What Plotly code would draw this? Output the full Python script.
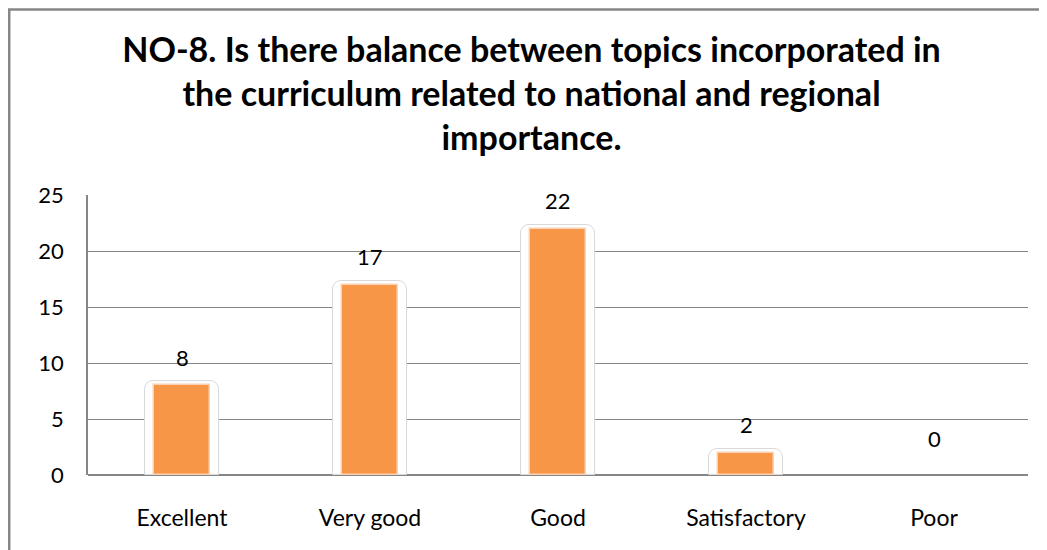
import plotly.graph_objects as go

categories = ["Excellent", "Very good", "Good", "Satisfactory", "Poor"]
responses = [8, 17, 22, 2, 0]
y_ticks = [0, 5, 10, 15, 20, 25]

title_text = ("<b>NO-8. Is there balance between topics incorporated in<br>"
              "the curriculum related to national and regional<br>"
              "importance.</b>")

font_family = "Lato, Carlito, 'Open Sans', sans-serif"
orange = "#F79646"
grey = "#868686"

# soft rounded "bevel" behind each bar, a touch taller than the bar itself
halo = [v + 0.35 if v > 0 else 0 for v in responses]
edge = [1.5 if v > 0 else 0 for v in responses]
halo_edge = [1 if v > 0 else 0 for v in responses]

fig = go.Figure()
fig.add_trace(go.Bar(
    x=categories, y=halo, width=0.39,
    marker=dict(color="white", line=dict(color="#D9D9D9", width=halo_edge), cornerradius=9),
    hoverinfo="skip", showlegend=False,
))
fig.add_trace(go.Bar(
    x=categories, y=responses, width=0.3,
    marker=dict(color=orange, line=dict(color="#FBD3B4", width=edge)),
    showlegend=False,
))

for cat, v in zip(categories, responses):
    fig.add_annotation(
        x=cat, y=v, text=str(v), showarrow=False,
        yshift=28 if v > 0 else 37,
        font=dict(family=font_family, size=22, color="black"),
    )

# outer chart frame (left and top edges visible, the rest runs off the image)
fig.add_shape(
    type="rect", xref="paper", yref="paper",
    x0=-0.0838, x1=1.05, y0=-0.35, y1=1.6625,
    line=dict(color=grey, width=2.5), fillcolor="rgba(0,0,0,0)", layer="below",
)

fig.update_layout(
    width=1047, height=550,
    barmode="overlay",
    bargap=0,
    plot_bgcolor="white", paper_bgcolor="white",
    margin=dict(l=80, r=27, t=187, b=83),
    font=dict(family=font_family, size=22, color="black"),
    title=dict(
        text=title_text, x=0.5, xanchor="center", xref="container",
        y=0.902, yanchor="top",
        font=dict(family=font_family, size=34, color="black"),
    ),
)
fig.update_xaxes(
    showline=False, showgrid=False, ticks="",
    tickfont=dict(size=23), ticklabelstandoff=27,
)
fig.update_yaxes(
    range=[0, 25], tickvals=y_ticks,
    showgrid=True, gridcolor=grey, gridwidth=1,
    zeroline=True, zerolinecolor=grey, zerolinewidth=2,
    showline=True, linecolor=grey, linewidth=1.5,
    ticks="", tickfont=dict(size=22), ticklabelstandoff=18,
)

fig.write_html("out.html")
